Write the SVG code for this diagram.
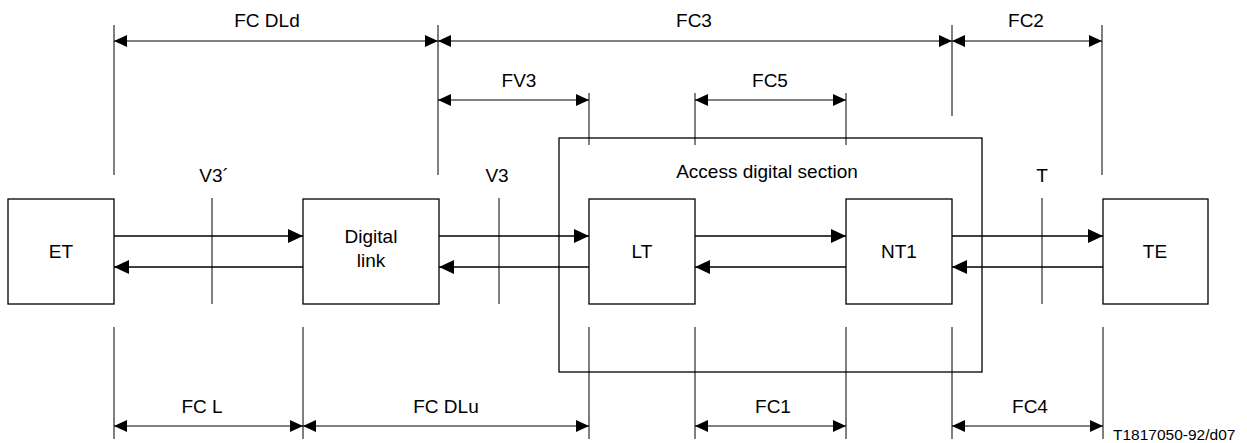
<svg xmlns="http://www.w3.org/2000/svg" width="1247" height="443" viewBox="0 0 1247 443">
<style>
text{font-family:"Liberation Sans",Arial,sans-serif;font-size:19px;fill:#000;text-anchor:middle}
.box{fill:#fff;stroke:#000;stroke-width:1.3}
.sec{fill:none;stroke:#000;stroke-width:1.3}
.con{stroke:#000;stroke-width:1.3;fill:none;marker-end:url(#ah)}
.dim{stroke:#000;stroke-width:1;fill:none;marker-start:url(#dh);marker-end:url(#dh)}
.ext{stroke:#000;stroke-width:1;fill:none}
.small{font-size:15.5px;text-anchor:start}
</style>
<defs>
<marker id="ah" markerUnits="userSpaceOnUse" markerWidth="15" markerHeight="14" viewBox="0 0 15 14" refX="15" refY="7" orient="auto-start-reverse"><path d="M0,0 L15,7 L0,14 z" fill="#000"/></marker>
<marker id="dh" markerUnits="userSpaceOnUse" markerWidth="13" markerHeight="12" viewBox="0 0 13 12" refX="13" refY="6" orient="auto-start-reverse"><path d="M0,0 L13,6 L0,12 z" fill="#000"/></marker>
</defs>
<g id="section">
<rect class="sec" x="559" y="138" width="423" height="234"/>
<text x="767" y="178">Access digital section</text>
</g>
<g id="extensions">
<path class="ext" d="M114,25V175 M438,25V175 M952,25V116 M1102,25V175 M589,93V145 M695,93V145 M846,93V145"/>
<path class="ext" d="M212,198V304 M499,198V304 M1042,198V304"/>
<path class="ext" d="M114,327V439 M303,327V439 M589,327V439 M695,327V439 M846,327V439 M952,327V439 M1103,327V439"/>
</g>
<g id="ET"><rect class="box" x="8" y="199" width="106" height="105"/><text x="61" y="258">ET</text></g>
<g id="DL"><rect class="box" x="303" y="199" width="136" height="105"/><text x="371" y="243">Digital</text><text x="371" y="267">link</text></g>
<g id="LT"><rect class="box" x="589" y="199" width="106" height="105"/><text x="642" y="258">LT</text></g>
<g id="NT1"><rect class="box" x="846" y="199" width="106" height="105"/><text x="899" y="258">NT1</text></g>
<g id="TE"><rect class="box" x="1103" y="199" width="105" height="105"/><text x="1155" y="258">TE</text></g>
<g id="connectors">
<path class="con" d="M114,236H303"/>
<path class="con" d="M303,267H114"/>
<path class="con" d="M439,236H589"/>
<path class="con" d="M589,267H439"/>
<path class="con" d="M695,236H846"/>
<path class="con" d="M846,267H695"/>
<path class="con" d="M952,236H1103"/>
<path class="con" d="M1103,267H952"/>
</g>
<g id="dimensions">
<path class="dim" d="M114,41H438"/>
<path class="dim" d="M438,41H952"/>
<path class="dim" d="M952,41H1102"/>
<path class="dim" d="M438,100H589"/>
<path class="dim" d="M695,100H846"/>
<path class="dim" d="M114,426H303"/>
<path class="dim" d="M303,426H589"/>
<path class="dim" d="M695,426H846"/>
<path class="dim" d="M952,426H1103"/>
</g>
<g id="labels">
<text x="267" y="27">FC DLd</text>
<text x="694" y="27">FC3</text>
<text x="1026" y="27">FC2</text>
<text x="519" y="87">FV3</text>
<text x="770" y="87">FC5</text>
<text x="214" y="182">V3´</text>
<text x="497" y="182">V3</text>
<text x="1042" y="182">T</text>
<text x="202" y="413">FC L</text>
<text x="446" y="413">FC DLu</text>
<text x="773" y="413">FC1</text>
<text x="1030" y="413">FC4</text>
<text class="small" x="1113" y="440">T1817050-92/d07</text>
</g>
</svg>
